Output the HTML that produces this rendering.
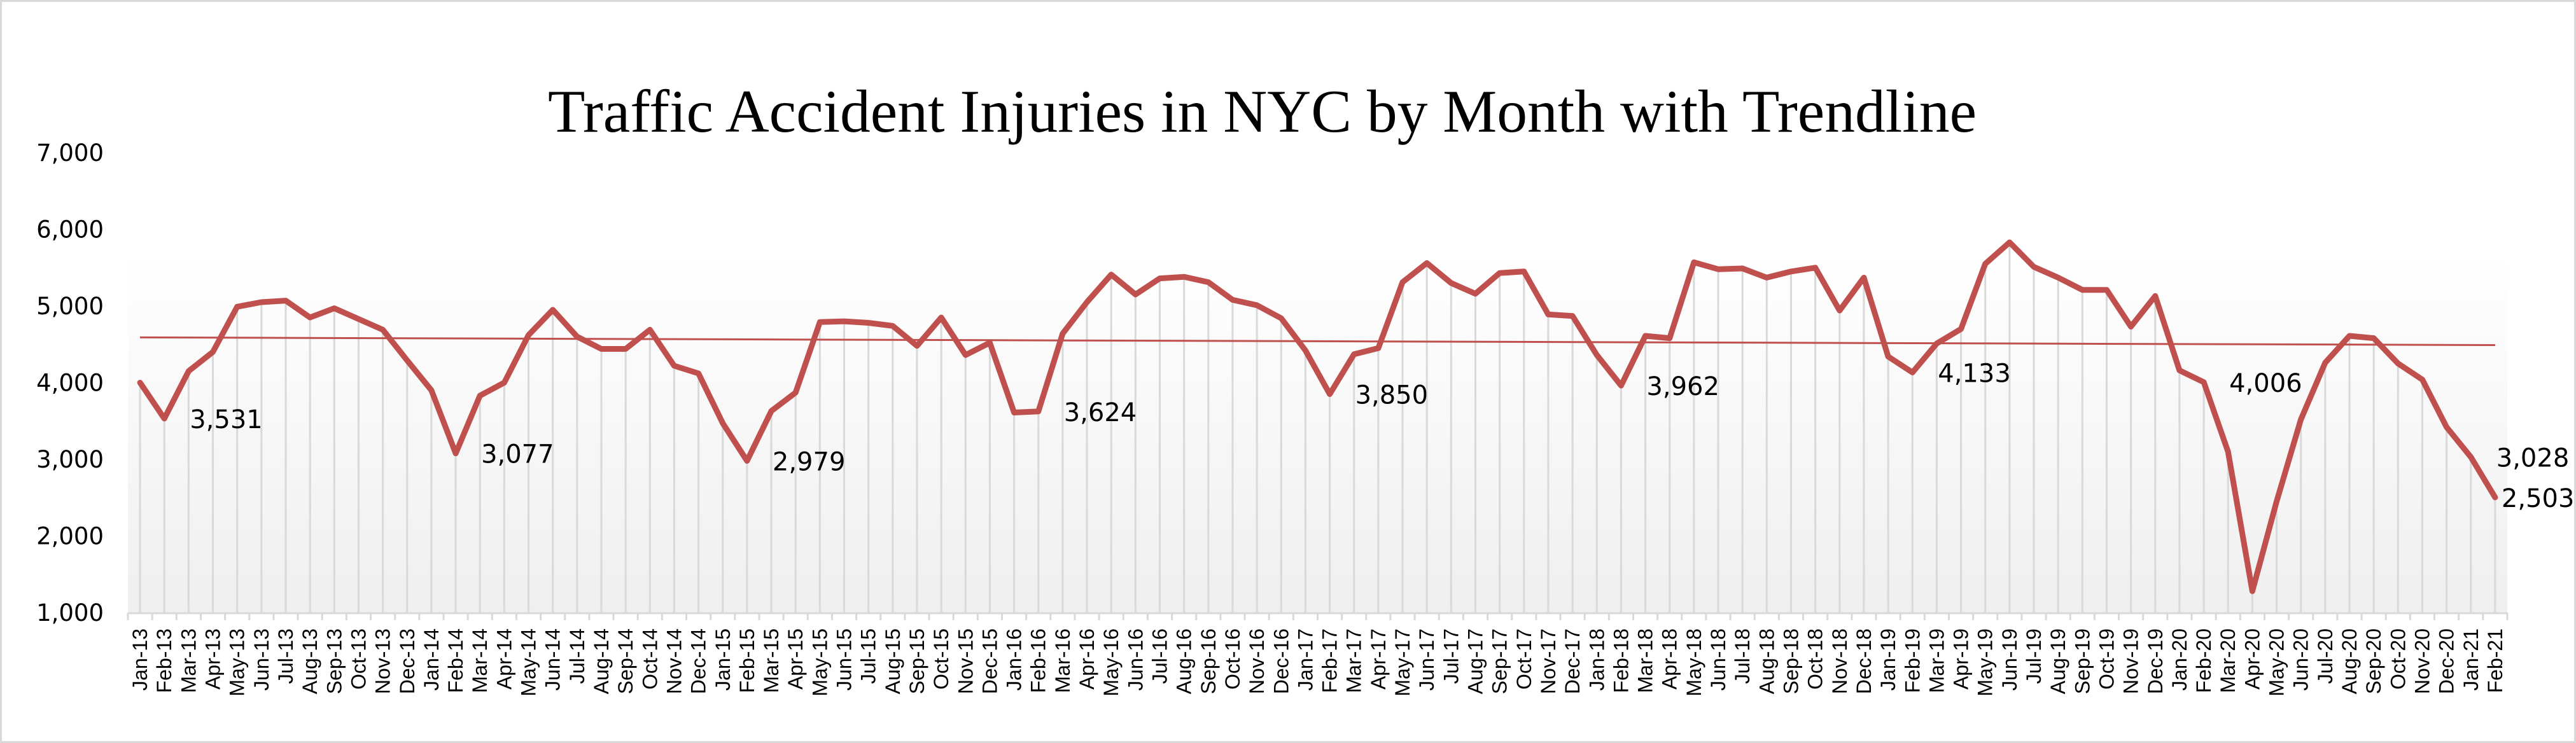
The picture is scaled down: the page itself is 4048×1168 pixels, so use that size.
<!DOCTYPE html>
<html><head><meta charset="utf-8"><style>
html,body{margin:0;padding:0;background:#fff}
svg{display:block}
</style></head><body>
<svg id="chart" width="4048" height="1168" viewBox="0 0 4048 1168" xmlns="http://www.w3.org/2000/svg">
<defs>
<linearGradient id="bg" x1="0" y1="0" x2="0" y2="1">
<stop offset="0" stop-color="#ffffff"/><stop offset="0.22" stop-color="#ffffff"/><stop offset="1" stop-color="#efefef"/>
</linearGradient>
</defs>
<rect x="1.5" y="1.5" width="4045" height="1165" fill="#fff" stroke="#d9d9d9" stroke-width="3"/>
<rect x="201" y="240" width="3739" height="723" fill="url(#bg)"/>
<text x="861" y="207" font-family="'Liberation Serif',serif" font-size="95" textLength="2245" lengthAdjust="spacingAndGlyphs" fill="#000">Traffic Accident Injuries in NYC  by Month with  Trendline</text>
<g id="yaxis"></g><g id="drops"></g><g id="xaxis"></g><g id="series"></g><g id="labels"></g>
</svg>
<script>
const years = ["13","14","15","16","17","18","19","20","21"];
const monthNames = ["Jan","Feb","Mar","Apr","May","Jun","Jul","Aug","Sep","Oct","Nov","Dec"];
const injuries = [
4000,3531,4150,4400,4990,5050,5070,4850,4970,4830,4690,4290,
3900,3077,3830,4000,4620,4950,4600,4440,4440,4690,4220,4120,
3470,2979,3630,3870,4790,4800,4780,4740,4480,4850,4360,4520,
3610,3624,4640,5050,5410,5150,5360,5380,5310,5080,5010,4840,
4420,3850,4370,4450,5310,5560,5300,5160,5430,5450,4890,4870,
4360,3962,4610,4580,5570,5480,5490,5370,5450,5500,4940,5370,
4340,4133,4510,4700,5550,5830,5510,5370,5210,5210,4730,5130,
4160,4006,3100,1280,2450,3520,4260,4610,4580,4250,4040,3420,
3028,2503];
const yTicks = [1000,2000,3000,4000,5000,6000,7000];
const trendStart = 4590, trendEnd = 4490;
const labeledIdx = [1,13,25,37,49,61,73,85,96,97];

const categories = [];
for (let i = 0; i < injuries.length; i++) {
  categories.push(monthNames[i % 12] + "-" + years[Math.floor(i / 12)]);
}
const NS = "http://www.w3.org/2000/svg";
const L = 201, R = 3940, T = 240, B = 963, yMin = 1000, yMax = 7000;
const band = (R - L) / categories.length;
const xPos = i => L + band * (i + 0.5);
const yPos = v => B - (v - yMin) / (yMax - yMin) * (B - T);
const fmt = v => v.toLocaleString("en-US");
function mk(tag, attrs, parent) {
  const e = document.createElementNS(NS, tag);
  for (const k in attrs) e.setAttribute(k, attrs[k]);
  parent.appendChild(e); return e;
}
const gy = document.getElementById("yaxis");
yTicks.forEach(v => {
  const t = mk("text", {x: 163, y: yPos(v) + 13, "text-anchor": "end", "font-family": "'DejaVu Sans',sans-serif", "font-size": 37, fill: "#000"}, gy);
  
  
  t.textContent = fmt(v);
});
const gd = document.getElementById("drops");
injuries.forEach((v, i) => {
  const l = mk("line", {x1: xPos(i), x2: xPos(i), y1: yPos(v), y2: B, stroke: "#d9d9d9", "stroke-width": 3}, gd);
  
  
});
const gx = document.getElementById("xaxis");
const ax = mk("line", {x1: L, x2: R, y1: B + 1, y2: B + 1, stroke: "#d9d9d9", "stroke-width": 3}, gx);


for (let i = 0; i <= categories.length; i++) {
  const x = L + band * i;
  const tk = mk("line", {x1: x, x2: x, y1: B, y2: B + 12, stroke: "#d9d9d9", "stroke-width": 3}, gx);
  
  
}
categories.forEach((c, i) => {
  const x = xPos(i) + 11, y = 988;
  const t = mk("text", {x: x, y: y, transform: `rotate(-90 ${x} ${y})`, "text-anchor": "end", "font-family": "'Liberation Sans',sans-serif", "font-size": 32, fill: "#000"}, gx);
  
  
  t.textContent = c;
});
const gs = document.getElementById("series");
const pts = injuries.map((v, i) => xPos(i).toFixed(1) + "," + yPos(v).toFixed(1)).join(" ");
const pl = mk("polyline", {points: pts, fill: "none", stroke: "#c0504d", "stroke-width": 9, "stroke-linejoin": "round", "stroke-linecap": "round"}, gs);


const tr = mk("line", {x1: xPos(0), x2: xPos(injuries.length - 1), y1: yPos(trendStart), y2: yPos(trendEnd), stroke: "#c0504d", "stroke-width": 3}, gs);


const gl = document.getElementById("labels");
labeledIdx.forEach(i => {
  const last = i === injuries.length - 1;
  const t = mk("text", {x: xPos(i) + (last ? 10 : 40), y: yPos(injuries[i]) + 15, "font-family": "'DejaVu Sans',sans-serif", "font-size": 40, fill: "#000"}, gl);
  
  
  t.textContent = fmt(injuries[i]);
});
</script>
</body></html>
